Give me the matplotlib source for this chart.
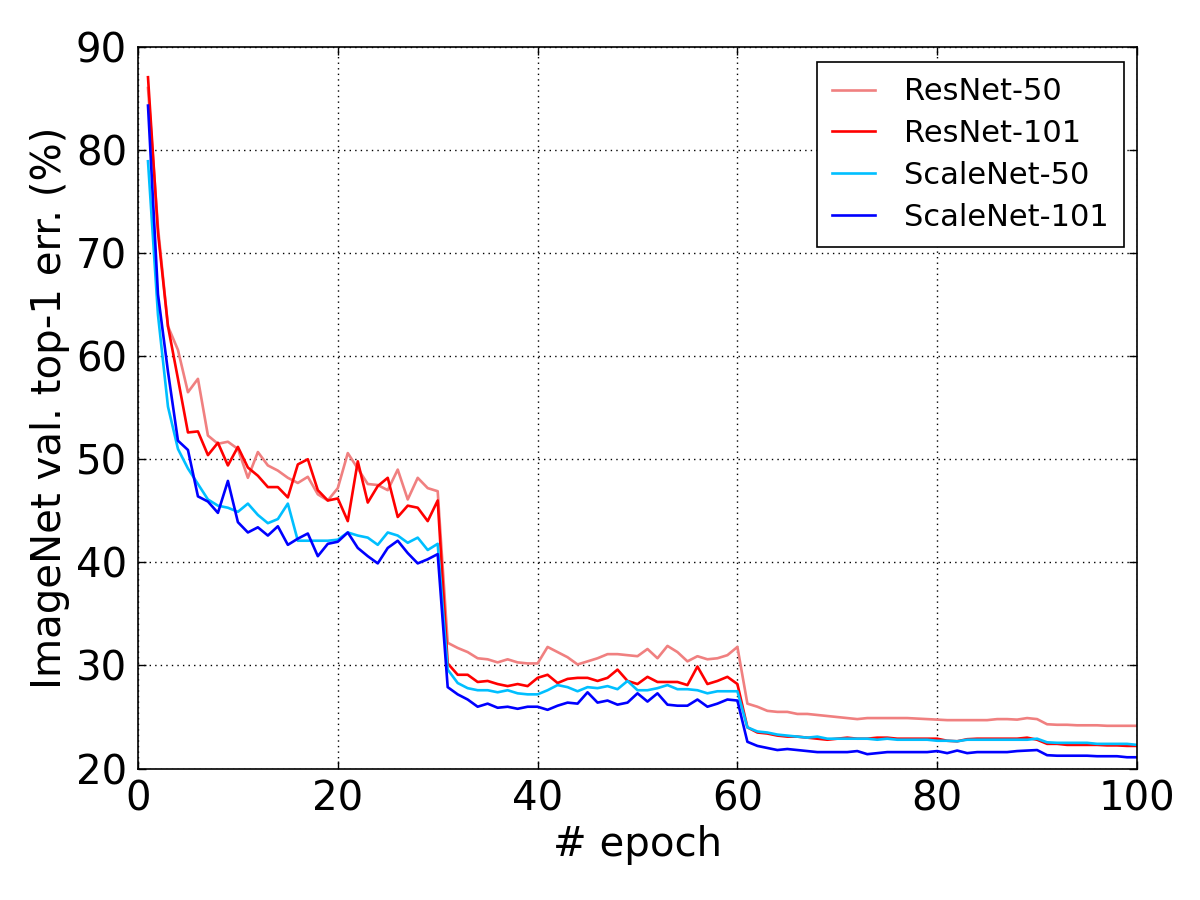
import matplotlib
matplotlib.use("Agg")
import matplotlib.pyplot as plt
import numpy as np

epochs = np.arange(1, 101)

resnet50 = [
    86.0, 72.5, 62.9, 60.6, 56.5, 57.8, 52.3, 51.5, 51.7, 51.0,
    48.2, 50.7, 49.4, 48.9, 48.2, 47.7, 48.3, 46.6, 46.0, 47.2,
    50.6, 49.1, 47.6, 47.5, 47.0, 49.0, 46.1, 48.2, 47.2, 46.9,
    32.2, 31.7, 31.3, 30.7, 30.6, 30.3, 30.6, 30.3, 30.2, 30.2,
    31.8, 31.3, 30.8, 30.1, 30.4, 30.7, 31.1, 31.1, 31.0, 30.9,
    31.6, 30.7, 31.9, 31.3, 30.4, 30.9, 30.6, 30.7, 31.0, 31.8,
    26.3, 26.0, 25.6, 25.5, 25.5, 25.3, 25.3, 25.2, 25.1, 25.0,
    24.9, 24.8, 24.9, 24.9, 24.9, 24.9, 24.9, 24.85, 24.8, 24.75,
    24.7, 24.7, 24.7, 24.7, 24.7, 24.8, 24.8, 24.75, 24.9, 24.8,
    24.3, 24.25, 24.25, 24.2, 24.2, 24.2, 24.15, 24.15, 24.15, 24.15,
]

resnet101 = [
    87.05, 72.0, 62.9, 57.8, 52.6, 52.7, 50.4, 51.6, 49.4, 51.2,
    49.2, 48.4, 47.3, 47.3, 46.3, 49.5, 50.0, 47.0, 46.0, 46.2,
    44.0, 49.8, 45.8, 47.4, 48.2, 44.4, 45.5, 45.3, 44.0, 46.0,
    30.2, 29.1, 29.1, 28.4, 28.5, 28.2, 28.0, 28.2, 28.0, 28.8,
    29.1, 28.3, 28.7, 28.8, 28.8, 28.5, 28.8, 29.6, 28.5, 28.2,
    28.9, 28.4, 28.4, 28.4, 28.1, 29.9, 28.2, 28.5, 28.9, 28.2,
    24.0, 23.5, 23.4, 23.2, 23.1, 23.1, 23.0, 22.9, 22.8, 22.9,
    23.0, 22.9, 22.9, 23.0, 23.0, 22.9, 22.9, 22.9, 22.9, 22.9,
    22.7, 22.65, 22.85, 22.9, 22.9, 22.9, 22.9, 22.9, 23.0, 22.8,
    22.4, 22.4, 22.3, 22.3, 22.3, 22.3, 22.25, 22.25, 22.2, 22.2,
]

scalenet50 = [
    78.9, 64.0, 55.1, 51.0, 49.1, 47.6, 46.1, 45.5, 45.3, 44.9,
    45.7, 44.6, 43.8, 44.2, 45.7, 42.1, 42.1, 42.1, 42.1, 42.2,
    42.9, 42.6, 42.4, 41.7, 42.9, 42.6, 41.9, 42.4, 41.2, 41.8,
    29.6, 28.3, 27.8, 27.6, 27.6, 27.4, 27.6, 27.3, 27.2, 27.2,
    27.6, 28.1, 27.9, 27.5, 27.9, 27.8, 28.0, 27.7, 28.5, 27.6,
    27.6, 27.8, 28.1, 27.7, 27.7, 27.6, 27.3, 27.5, 27.5, 27.5,
    24.0, 23.6, 23.5, 23.3, 23.2, 23.1, 23.0, 23.1, 22.9, 22.9,
    22.9, 22.9, 22.9, 22.8, 22.9, 22.8, 22.8, 22.8, 22.8, 22.7,
    22.7, 22.65, 22.8, 22.8, 22.8, 22.8, 22.8, 22.8, 22.8, 22.9,
    22.55, 22.5, 22.5, 22.5, 22.5, 22.4, 22.4, 22.4, 22.4, 22.3,
]

scalenet101 = [
    84.3, 66.0, 58.5, 51.8, 50.9, 46.4, 45.9, 44.8, 47.9, 43.9,
    42.9, 43.4, 42.6, 43.5, 41.7, 42.3, 42.8, 40.6, 41.8, 42.0,
    42.9, 41.4, 40.6, 39.9, 41.4, 42.1, 40.9, 39.9, 40.3, 40.8,
    27.9, 27.2, 26.7, 26.0, 26.3, 25.9, 26.0, 25.8, 26.0, 26.0,
    25.7, 26.1, 26.4, 26.3, 27.4, 26.4, 26.6, 26.2, 26.4, 27.3,
    26.5, 27.3, 26.2, 26.1, 26.1, 26.7, 26.0, 26.3, 26.7, 26.6,
    22.6, 22.2, 22.0, 21.8, 21.9, 21.8, 21.7, 21.6, 21.6, 21.6,
    21.6, 21.7, 21.4, 21.5, 21.6, 21.6, 21.6, 21.6, 21.6, 21.7,
    21.5, 21.75, 21.5, 21.6, 21.6, 21.6, 21.6, 21.7, 21.75, 21.8,
    21.3, 21.25, 21.25, 21.25, 21.25, 21.2, 21.2, 21.2, 21.1, 21.1,
]

series = [
    ("ResNet-50", resnet50, "#f08080"),
    ("ResNet-101", resnet101, "#ff0000"),
    ("ScaleNet-50", scalenet50, "#00bfff"),
    ("ScaleNet-101", scalenet101, "#0000ff"),
]

plt.rcParams['font.family'] = ['DejaVu Sans']

fig = plt.figure(figsize=(12, 9), dpi=100, facecolor='white')
ax = fig.add_axes([0.115, 0.146, 0.8325, 0.802])

for name, vals, color in series:
    ax.plot(epochs, vals, color=color, linewidth=1.9, label=name)

ax.set_xlim(0, 100)
ax.set_ylim(20, 90)
ax.set_xticks(np.arange(0, 101, 20))
ax.set_yticks(np.arange(20, 91, 10))
ax.grid(True, color='black', linestyle=(0, (1, 3)), linewidth=1.0)
ax.tick_params(direction='in', top=True, right=True, length=6, width=1,
               labelsize=29, pad=8)
for sp in ax.spines.values():
    sp.set_linewidth(1.2)

ax.set_xlabel("# epoch", fontsize=29)
ax.set_ylabel("ImageNet val. top-1 err. (%)", fontsize=29)

leg = ax.legend(loc='upper right', fontsize=22, fancybox=False,
                framealpha=1, edgecolor='black', handlelength=1.4,
                handletextpad=0.95, borderpad=0.5, labelspacing=0.42,
                borderaxespad=0, bbox_to_anchor=(0.987, 0.979))
leg.get_frame().set_linewidth(1.2)

fig.savefig("out.png", dpi=100, facecolor='white')
